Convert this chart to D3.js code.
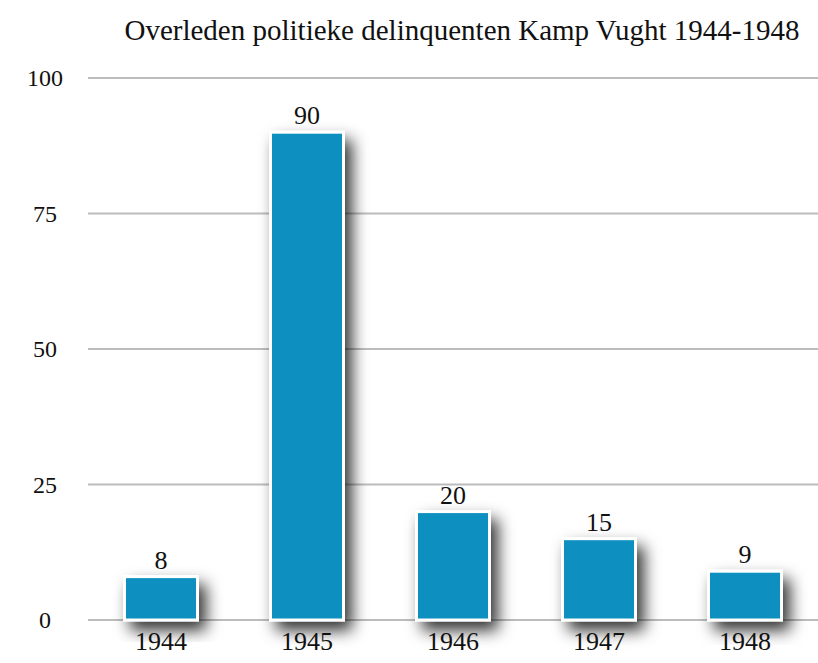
<!DOCTYPE html>
<html>
<head>
<meta charset="utf-8">
<script src="https://cdn.jsdelivr.net/npm/d3@7"></script>
<style>
  body { margin: 0; background: #fff; }
  text { font-family: "Liberation Serif", serif; fill: #111; }
</style>
</head>
<body>
<div id="chart"></div>
<script>
const years = ["1944", "1945", "1946", "1947", "1948"];
const deaths = [8, 90, 20, 15, 9];
const yTicks = [0, 25, 50, 75, 100];
const title = "Overleden politieke delinquenten Kamp Vught 1944-1948";

const width = 818, height = 663;
const margin = {top: 78, right: 0, bottom: 43, left: 88};

const svg = d3.select("#chart").append("svg")
  .attr("width", width)
  .attr("height", height);

// shadow under the bars
const defs = svg.append("defs");
const f = defs.append("filter").attr("id", "shadow")
  .attr("x", "-40%").attr("y", "-40%").attr("width", "190%").attr("height", "190%");
f.append("feDropShadow")
  .attr("dx", 7).attr("dy", 9)
  .attr("stdDeviation", 8)
  .attr("flood-color", "#000")
  .attr("flood-opacity", 0.8);

const x = d3.scaleBand()
  .domain(years)
  .range([margin.left, width - margin.right])
  .paddingInner(0.5)
  .paddingOuter(0.25);

const y = d3.scaleLinear()
  .domain([0, 100])
  .range([height - margin.bottom, margin.top]);

// gridlines
svg.append("g")
  .selectAll("line")
  .data(yTicks)
  .join("line")
  .attr("x1", margin.left)
  .attr("x2", width - margin.right)
  .attr("y1", d => y(d))
  .attr("y2", d => y(d))
  .attr("stroke", "#bcbcbc")
  .attr("stroke-width", 2);

// y labels
svg.append("g")
  .selectAll("text")
  .data(yTicks)
  .join("text")
  .attr("x", 45)
  .attr("y", d => y(d) + 8)
  .attr("text-anchor", "middle")
  .style("font-size", "24px")
  .text(d => d);

// bars
svg.append("g")
  .selectAll("rect")
  .data(deaths)
  .join("rect")
  .attr("x", (d, i) => x(years[i]))
  .attr("width", x.bandwidth())
  .attr("y", d => y(d))
  .attr("height", d => y(0) - y(d))
  .attr("fill", "#0890c0")
  .attr("stroke", "#fff")
  .attr("stroke-width", 3)
  .attr("filter", "url(#shadow)");

// value labels
svg.append("g")
  .selectAll("text")
  .data(deaths)
  .join("text")
  .attr("x", (d, i) => x(years[i]) + x.bandwidth() / 2)
  .attr("y", d => y(d) - 8)
  .attr("text-anchor", "middle")
  .style("font-size", "26px")
  .text(d => d);

// year labels
svg.append("g")
  .selectAll("text")
  .data(years)
  .join("text")
  .attr("x", d => x(d) + x.bandwidth() / 2)
  .attr("y", 650)
  .attr("text-anchor", "middle")
  .style("font-size", "26px")
  .text(d => d);

svg.append("text")
  .attr("x", 462)
  .attr("y", 40)
  .attr("text-anchor", "middle")
  .style("font-size", "29px")
  .text(title);
</script>
</body>
</html>
